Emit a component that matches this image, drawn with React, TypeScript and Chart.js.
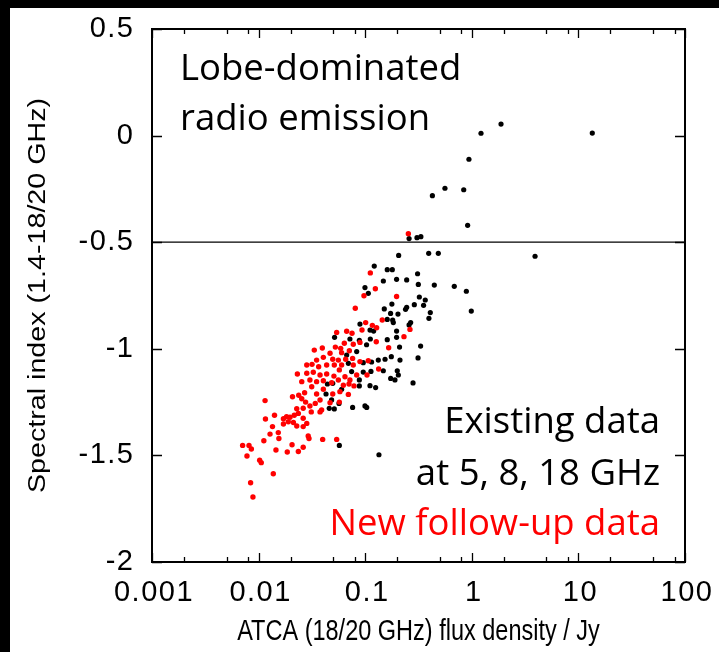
import { useEffect, useRef } from "react";
import { Chart, registerables } from "chart.js";

Chart.register(...registerables);

const W = 719;
const H = 652;

// Existing data at 5, 8, 18 GHz (black)
const blackFlux = [
  1.88, 1.22, 0.94, 0.427, 0.56, 0.84, 0.914, 0.258, 0.306, 0.333, 3.92, 13.5,
  0.206, 0.394, 0.485, 0.1216, 0.161, 0.1795, 0.31, 0.148, 0.197, 0.245, 0.315, 0.445,
  0.685, 0.889, 0.0995, 0.107, 0.322, 0.366, 0.178, 0.289, 0.353, 0.245, 0.239, 0.989,
  0.151, 0.173, 0.203, 0.408, 0.396, 0.267, 0.161, 0.181, 0.1835, 0.258, 0.0893, 0.111,
  0.12, 0.197, 0.0516, 0.0719, 0.0881, 0.1117, 0.161, 0.197, 0.103, 0.21, 0.331,
  0.067, 0.0832, 0.0959, 0.1148, 0.1327, 0.1535, 0.1758, 0.0959, 0.1132, 0.1479, 0.2,
  0.1734, 0.1901, 0.2046, 0.0695, 0.0601, 0.0881, 0.0746, 0.0442, 0.0496, 0.1109,
  0.1253, 0.0881, 0.0429, 0.0484, 0.0762, 0.0995, 0.1033, 0.0568, 0.046, 0.0513,
  0.0572, 0.1346, 0.212, 0.313, 0.281,
];
const blackIndex = [
  0.054, 0.011, -0.111, -0.282, -0.247, -0.254, -0.421, -0.483, -0.479, -0.474, -0.566, 0.012,
  -0.562, -0.552, -0.552, -0.612, -0.629, -0.629, -0.648, -0.682, -0.674, -0.677, -0.698, -0.701,
  -0.707, -0.73, -0.713, -0.74, -0.757, -0.771, -0.79, -0.793, -0.796, -0.805, -0.815, -0.823,
  -0.813, -0.834, -0.837, -0.83, -0.857, -0.877, -0.862, -0.865, -0.877, -0.888, -0.884, -0.912,
  -0.917, -0.917, -0.946, -0.954, -0.96, -0.954, -0.957, -0.946, -0.981, -0.992, -0.987,
  -1.029, -1.013, -1.065, -1.062, -1.053, -1.049, -1.037, -1.109, -1.106, -1.103, -1.103,
  -1.139, -1.146, -1.123, -1.068, -1.19, -1.146, -1.107, -1.165, -1.162, -1.173,
  -1.182, -1.174, -1.212, -1.24, -1.275, -1.268, -1.275, -1.256, -1.279, -1.282,
  -1.453, -1.497, -1.053, -1.043, -1.16,
];

// New follow-up data (red)
const redFlux = [
  0.1117, 0.1245, 0.0974, 0.197, 0.0807, 0.1445, 0.101, 0.1167, 0.128, 0.0933, 0.263, 0.054,
  0.067, 0.0752, 0.231, 0.127, 0.0637, 0.0773, 0.0893, 0.0525, 0.0589, 0.0396, 0.0333, 0.166,
  0.254,
  0.0468, 0.0601, 0.071, 0.0405, 0.0496, 0.056, 0.0656, 0.0762, 0.0893, 0.1069, 0.035,
  0.0283, 0.0317, 0.0366, 0.0435, 0.0513, 0.0601, 0.0773, 0.1337, 0.0231, 0.0283, 0.0326,
  0.0377, 0.0435, 0.0509, 0.0572, 0.0646, 0.0719, 0.0832, 0.104, 0.0254, 0.0303, 0.035,
  0.0405, 0.0484, 0.056, 0.0624, 0.0705, 0.0785, 0.0208, 0.0238, 0.027, 0.0315, 0.035,
  0.0405, 0.0496, 0.0579, 0.0695, 0.0254, 0.0276, 0.0303, 0.034, 0.0377, 0.039, 0.0468,
  0.0572, 0.0312, 0.0377, 0.0115, 0.0228, 0.0262, 0.0171, 0.0183, 0.0197, 0.0216, 0.0236,
  0.0262, 0.019, 0.0212, 0.0141, 0.0116, 0.0171, 0.0228, 0.0262, 0.0283, 0.0135, 0.0153,
  0.0128, 0.0155, 0.0112, 0.0292, 0.0297, 0.0399, 0.054, 0.00708, 0.00813, 0.00855,
  0.00778, 0.01455, 0.01858, 0.0206, 0.0236, 0.0262, 0.01023, 0.01059, 0.01374, 0.00841,
  0.00885,
];
const redIndex = [
  -0.644, -0.718, -0.751, -0.755, -0.81, -0.865, -0.877, -0.89, -0.901, -0.912, -0.909, -0.923,
  -0.918, -0.927, -0.943, -0.967, -0.974, -0.979, -0.97, -0.992, -0.998, -0.996, -1.006, -0.995,
  -0.46,
  -1.021, -1.018, -1.009, -1.04, -1.049, -1.053, -1.049, -1.045, -1.06, -1.056, -1.053,
  -1.076, -1.073, -1.084, -1.076, -1.076, -1.076, -1.076, -1.095, -1.118, -1.115, -1.11,
  -1.123, -1.118, -1.128, -1.099, -1.131, -1.146, -1.123, -1.123, -1.154, -1.146, -1.154,
  -1.15, -1.159, -1.146, -1.171, -1.165, -1.174, -1.225, -1.218, -1.206, -1.178, -1.212,
  -1.19, -1.212, -1.201, -1.214, -1.234, -1.25, -1.268, -1.256, -1.24, -1.287, -1.253,
  -1.25, -1.296, -1.296, -1.243, -1.281, -1.279, -1.328, -1.318, -1.321, -1.312, -1.303,
  -1.326, -1.342, -1.346, -1.312, -1.329, -1.353, -1.362, -1.365, -1.35, -1.365, -1.393,
  -1.4, -1.421, -1.431, -1.409, -1.421, -1.425, -1.425, -1.453, -1.453, -1.47,
  -1.503, -1.475, -1.484, -1.45, -1.482, -1.462, -1.523, -1.534, -1.586, -1.628,
  -1.695,
];

// Horizontal divider (lobe-dominated threshold)
const thresholdIndex = -0.5;
const thresholdFlux = [0.001, 100];

// Axis ticks
const xMajorTicks = [0.001, 0.01, 0.1, 1, 10, 100];
const xTickLabels = ["0.001", "0.01", "0.1", "1", "10", "100"];
const xMinorMultipliers = [2, 5, 8];
const yTicks = [0.5, 0, -0.5, -1, -1.5, -2];
const yTickLabels = ["0.5", "0", "-0.5", "-1", "-1.5", "-2"];

const xTitle = "ATCA (18/20 GHz) flux density / Jy";
const yTitle = "Spectral index (1.4-18/20 GHz)";
const topNote = ["Lobe-dominated", "radio emission"];
const bottomNoteBlack = ["Existing data", "at 5, 8, 18 GHz"];
const bottomNoteRed = "New follow-up data";

const GP_FONT = '"Liberation Sans", Arial, Helvetica, sans-serif';
const NOTE_FONT = '"Open Sans", "Noto Sans", sans-serif';
const STRETCH = 1.22;

function stretchText(
  ctx: CanvasRenderingContext2D,
  text: string,
  x: number,
  y: number,
  align: CanvasTextAlign,
  baseline: CanvasTextBaseline,
  sy: number
) {
  ctx.save();
  ctx.translate(x, y);
  ctx.scale(1, sy);
  ctx.textAlign = align;
  ctx.textBaseline = baseline;
  ctx.fillText(text, 0, 0);
  ctx.restore();
}

const framePlugin = {
  id: "frame",
  beforeDraw(chart: any) {
    const ctx: CanvasRenderingContext2D = chart.ctx;
    ctx.save();
    ctx.fillStyle = "#000";
    ctx.fillRect(0, 0, chart.width, chart.height);
    ctx.fillStyle = "#fff";
    ctx.fillRect(10, 8, chart.width - 10, chart.height - 8);
    ctx.restore();
  },
  afterDraw(chart: any) {
    const ctx: CanvasRenderingContext2D = chart.ctx;
    const { left, right, top, bottom } = chart.chartArea;
    const xs = chart.scales.x;
    const ys = chart.scales.y;
    ctx.save();
    ctx.strokeStyle = "#000";
    ctx.fillStyle = "#000";

    // ticks
    ctx.lineWidth = 1.3;
    ctx.beginPath();
    for (const v of xMajorTicks) {
      const px = Math.round(xs.getPixelForValue(v)) + 0.5;
      ctx.moveTo(px, bottom);
      ctx.lineTo(px, bottom - 9);
      ctx.moveTo(px, top);
      ctx.lineTo(px, top + 9);
    }
    for (let i = 0; i < xMajorTicks.length - 1; i++) {
      for (const m of xMinorMultipliers) {
        const px = Math.round(xs.getPixelForValue(xMajorTicks[i] * m)) + 0.5;
        ctx.moveTo(px, bottom);
        ctx.lineTo(px, bottom - 5);
        ctx.moveTo(px, top);
        ctx.lineTo(px, top + 5);
      }
    }
    for (const v of yTicks) {
      const py = Math.round(ys.getPixelForValue(v)) + 0.5;
      ctx.moveTo(left, py);
      ctx.lineTo(left + 10, py);
      ctx.moveTo(right, py);
      ctx.lineTo(right - 10, py);
    }
    ctx.stroke();

    // border
    ctx.lineWidth = 2;
    ctx.strokeRect(left, top, right - left, bottom - top);

    // tick labels
    ctx.font = `29px ${GP_FONT}`;
    (ctx as any).letterSpacing = "1.5px";
    yTicks.forEach((v, i) => {
      stretchText(ctx, yTickLabels[i], left - 17.5, ys.getPixelForValue(v), "right", "middle", 1);
    });
    xMajorTicks.forEach((v, i) => {
      stretchText(ctx, xTickLabels[i], xs.getPixelForValue(v) + 2, bottom + 39, "center", "alphabetic", 1);
    });
    (ctx as any).letterSpacing = "0px";

    // axis titles
    ctx.font = `23.5px ${GP_FONT}`;
    stretchText(ctx, xTitle, (left + right) / 2, bottom + 78, "center", "alphabetic", STRETCH);
    ctx.save();
    ctx.translate(39, (top + bottom) / 2);
    ctx.scale(1, STRETCH);
    ctx.rotate(-Math.PI / 2);
    ctx.textAlign = "center";
    ctx.textBaseline = "middle";
    ctx.fillText(yTitle, 0, 0);
    ctx.restore();

    // annotations
    ctx.font = `36.5px ${NOTE_FONT}`;
    ctx.textAlign = "left";
    ctx.textBaseline = "alphabetic";
    ctx.fillText(topNote[0], left + 28, top + 51);
    ctx.fillText(topNote[1], left + 28, top + 101);
    ctx.textAlign = "right";
    ctx.fillText(bottomNoteBlack[0], right - 25, top + 404);
    ctx.fillText(bottomNoteBlack[1], right - 25, top + 456);
    ctx.fillStyle = "#ff0000";
    ctx.fillText(bottomNoteRed, right - 25, top + 506);
    ctx.restore();
  },
};

export default function App() {
  const ref = useRef<HTMLCanvasElement>(null);
  useEffect(() => {
    const canvas = ref.current;
    if (!canvas) return;
    const chart = new Chart(canvas, {
      type: "scatter",
      data: {
        datasets: [
          {
            label: bottomNoteRed,
            data: redFlux.map((x, i) => ({ x, y: redIndex[i] })),
            pointRadius: 2.7,
            pointBackgroundColor: "#ff0000",
            pointBorderWidth: 0,
            order: 1,
          } as any,
          {
            label: bottomNoteBlack[0],
            data: blackFlux.map((x, i) => ({ x, y: blackIndex[i] })),
            pointRadius: 2.6,
            pointBackgroundColor: "#000000",
            pointBorderWidth: 0,
            order: 2,
          } as any,
          {
            type: "line",
            label: "threshold",
            data: thresholdFlux.map((x) => ({ x, y: thresholdIndex })),
            borderColor: "#000000",
            borderWidth: 1.3,
            pointRadius: 0,
            showLine: true,
            order: 3,
          } as any,
        ],
      },
      options: {
        responsive: false,
        animation: false,
        devicePixelRatio: 1,
        events: [],
        layout: { padding: { left: 152, top: 29, right: 34, bottom: 90 } },
        plugins: { legend: { display: false }, tooltip: { enabled: false } },
        scales: {
          x: { type: "logarithmic", min: 0.001, max: 100, display: false },
          y: { type: "linear", min: -2, max: 0.5, display: false },
        },
      },
      plugins: [framePlugin],
    });
    return () => chart.destroy();
  }, []);
  return (
    <div style={{ position: "fixed", left: 0, top: 0, width: W, height: H }}>
      <canvas ref={ref} width={W} height={H} style={{ display: "block", width: W, height: H }} />
    </div>
  );
}
